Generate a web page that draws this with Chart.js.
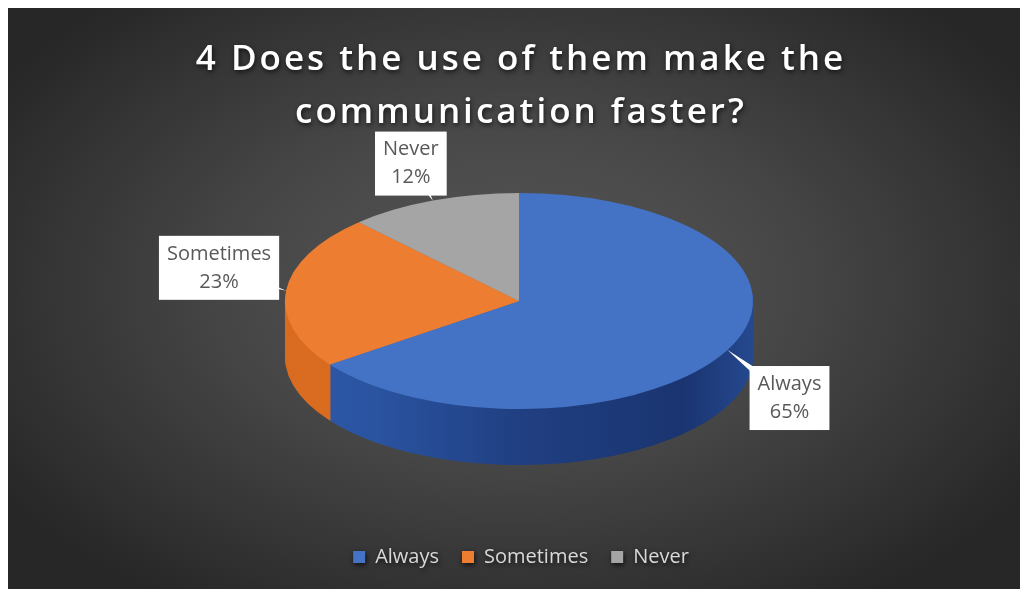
<!DOCTYPE html>
<html>
<head>
<meta charset="utf-8">
<script src="https://cdn.jsdelivr.net/npm/chart.js@4"></script>
<style>
  html, body { margin: 0; padding: 0; background: #fff; }
  #wrap {
    position: absolute; left: 8px; top: 8px; width: 1012px; height: 581px;
    background: radial-gradient(ellipse 60% 65% at 50% 48%, #575757 0%, #474747 45%, #333 80%, #272727 100%);
  }
  canvas { display: block; }
</style>
</head>
<body>
<div id="wrap"><canvas id="pieChart" width="1012" height="581"></canvas></div>
<script>
const categories = ["Always", "Sometimes", "Never"];
const shares = [65, 23, 12];
const topColors = ["#4472c4", "#ed7d31", "#a5a5a5"];
const titleLines = ["4 Does the use of them make the", "communication faster?"];

// where the flattened pie sits on the canvas
const PIE = { x: 511, y: 293, rx: 234, ry: 108, depth: 56 };
// label box offsets from the rim point of each slice
const labelOffsets = [{ dx: 62, dy: 48 }, { dx: -67, dy: -23 }, { dx: -22, dy: -37 }];

function sideFill(ctx, i, cx, r) {
  if (i === 0) {
    const g = ctx.createLinearGradient(cx - r, 0, cx + r, 0);
    g.addColorStop(0, "#2d5aa9");
    g.addColorStop(0.2, "#2a53a0");
    g.addColorStop(0.5, "#203f82");
    g.addColorStop(0.85, "#1a3470");
    g.addColorStop(1, "#25498f");
    return g;
  }
  if (i === 1) return "#d96c20";
  return "#7a7a7a";
}

const pie3d = {
  id: "pie3d",
  beforeDraw(chart) {
    const ctx = chart.ctx;
    // spaced-out title letters, like the original
    const tb = chart.titleBlock;
    if (tb && !tb._spaced) {
      const orig = tb.draw;
      tb.draw = function () {
        ctx.save();
        ctx.letterSpacing = "3px";
        orig.apply(this, arguments);
        ctx.restore();
      };
      tb._spaced = true;
    }
    ctx.save();
    ctx.shadowColor = "rgba(0,0,0,0.7)";
    ctx.shadowBlur = 5;
    ctx.shadowOffsetX = 1;
    ctx.shadowOffsetY = 2;
  },
  afterDraw(chart) {
    chart.ctx.restore();
  },
  beforeDatasetsDraw(chart) {
    const ctx = chart.ctx;
    const meta = chart.getDatasetMeta(0);
    const a0 = meta.data[0];
    const r = a0.outerRadius, cx = a0.x, cy = a0.y;
    const sx = PIE.rx / r, sy = PIE.ry / r;
    ctx.save();
    ctx.shadowColor = "transparent";
    // side wall: stack of darker copies of the slices
    for (let d = PIE.depth; d >= 1; d--) {
      ctx.save();
      ctx.translate(PIE.x, PIE.y + d);
      ctx.scale(sx, sy);
      ctx.translate(-cx, -cy);
      meta.data.forEach((arc, i) => {
        const saved = arc.options;
        arc.options = Object.assign({}, saved, { backgroundColor: sideFill(ctx, i, cx, r) });
        arc.draw(ctx);
        arc.options = saved;
      });
      ctx.restore();
    }
    // top face is drawn by the chart itself with this transform
    ctx.translate(PIE.x, PIE.y);
    ctx.scale(sx, sy);
    ctx.translate(-cx, -cy);
  },
  afterDatasetsDraw(chart) {
    const ctx = chart.ctx;
    ctx.restore();
    ctx.save();
    ctx.shadowColor = "transparent";
    const meta = chart.getDatasetMeta(0);
    const total = shares.reduce((s, v) => s + v, 0);
    ctx.font = "20px 'Open Sans'";
    ctx.textAlign = "center";
    ctx.textBaseline = "middle";
    meta.data.forEach((arc, i) => {
      const a = (arc.startAngle + arc.endAngle) / 2;
      const ax = PIE.x + PIE.rx * Math.cos(a);
      const ay = PIE.y + PIE.ry * Math.sin(a);
      const bx = ax + labelOffsets[i].dx;
      const by = ay + labelOffsets[i].dy;
      const lines = [categories[i], Math.round(shares[i] / total * 100) + "%"];
      const w = Math.max(...lines.map(t => ctx.measureText(t).width)) + 16;
      const h = 64;
      // leader wedge
      const vx = ax - bx, vy = ay - by, len = Math.hypot(vx, vy) || 1;
      const px = -vy / len * 7, py = vx / len * 7;
      ctx.fillStyle = "#ffffff";
      ctx.beginPath();
      ctx.moveTo(bx + px, by + py);
      ctx.lineTo(ax, ay);
      ctx.lineTo(bx - px, by - py);
      ctx.closePath();
      ctx.fill();
      ctx.fillRect(bx - w / 2, by - h / 2, w, h);
      ctx.fillStyle = "#595959";
      ctx.fillText(lines[0], bx, by - 14);
      ctx.fillText(lines[1], bx, by + 14);
    });
    ctx.restore();
  }
};

new Chart(document.getElementById("pieChart"), {
  type: "pie",
  data: {
    labels: categories,
    datasets: [{
      data: shares,
      backgroundColor: topColors,
      borderWidth: 0,
      clip: false
    }]
  },
  options: {
    responsive: false,
    animation: false,
    events: [],
    layout: { padding: { left: 14, bottom: 12 } },
    plugins: {
      title: {
        display: true,
        text: titleLines,
        color: "#ffffff",
        font: { family: "'Open Sans'", size: 35, weight: "600", lineHeight: 1.52 },
        padding: { top: 25, bottom: 10 }
      },
      legend: {
        position: "bottom",
        labels: {
          color: "#d9d9d9",
          font: { family: "'Open Sans'", size: 20 },
          boxWidth: 12,
          boxHeight: 12,
          padding: 23
        }
      },
      tooltip: { enabled: false }
    }
  },
  plugins: [pie3d]
});
</script>
</body>
</html>
